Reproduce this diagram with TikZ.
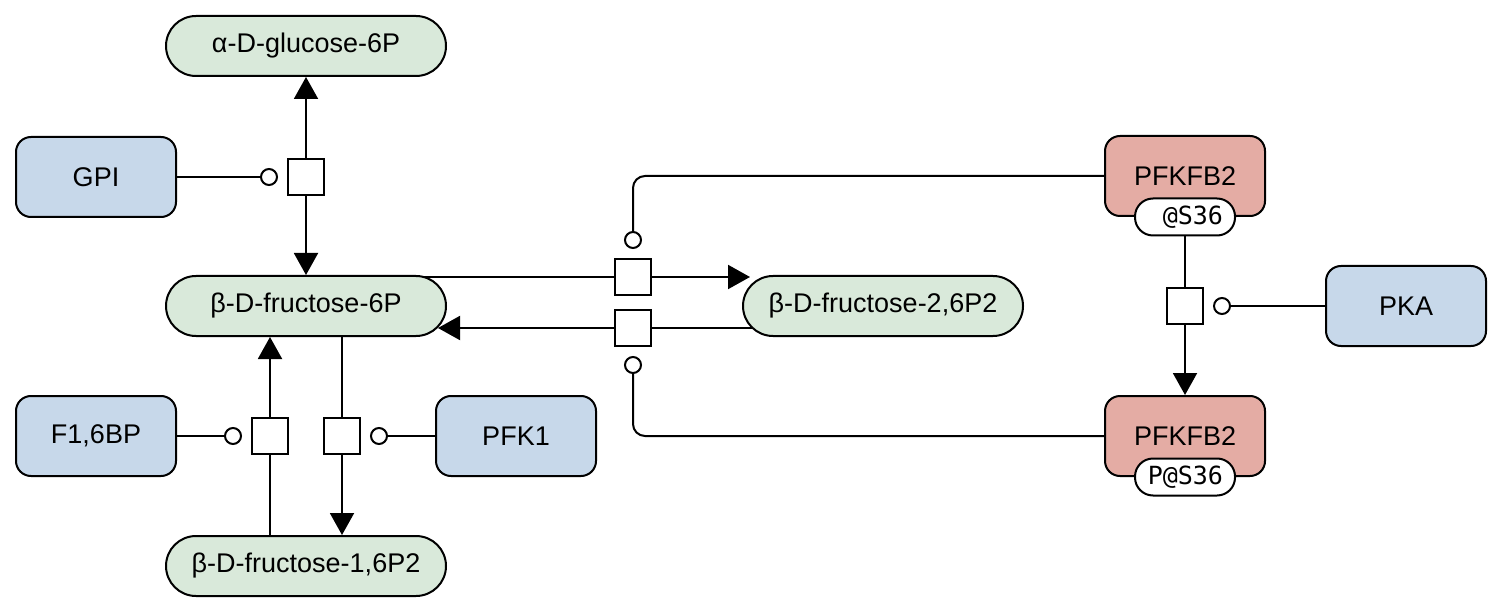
\documentclass[tikz,border=0pt]{standalone}
\usepackage{fontspec}
\setmainfont{Liberation Sans}
\newfontfamily\sitefont{DejaVu Sans Mono}
\usepackage{tikz}
\usetikzlibrary{calc,arrows.meta,backgrounds}
\definecolor{metagreen}{RGB}{217,233,218}
\definecolor{enzblue}{RGB}{199,216,234}
\definecolor{enzred}{RGB}{228,172,164}
\tikzset{
    metabolite/.style={draw=black,line width=1pt,fill=metagreen,rounded corners=15pt,minimum width=140pt,minimum height=30pt,inner sep=0pt},
    enzyme/.style={draw=black,line width=1pt,fill=enzblue,rounded corners=7.5pt,minimum width=80pt,minimum height=40pt,inner sep=0pt},
    kinase/.style={enzyme,fill=enzred},
    site/.style={draw=black,line width=1pt,fill=white,rounded corners=9pt,minimum width=50pt,minimum height=18.5pt,inner sep=0pt,text width=38pt,align=right,font=\sitefont\fontsize{12.5}{14}\selectfont},
    process/.style={draw=black,line width=1pt,fill=white,minimum size=18pt,inner sep=0pt},
    link/.style={black,line width=1pt},
    conversion/.style={link,-{Triangle[length=11pt,width=12pt]}},
    modulation/.style={link,-{Circle[open,length=9pt,width=9pt]},shorten >=4.5pt}
}
\begin{document}
\begin{tikzpicture}[x=0.5pt,y=-0.5pt,font=\fontsize{13.5}{16}\selectfont]
\useasboundingbox (0,0) rectangle (1502,614);
\node[metabolite] (glc6p) at (306,46) {α-D-glucose-6P};
\node[enzyme] (gpi) at (96,177) {GPI};
\node[process] (p1) at (306,177) {};
\node[metabolite] (fru6p) at (306,306) {β-D-fructose-6P};
\node[metabolite] (fru16p) at (306,566) {β-D-fructose-1,6P2};
\node[enzyme] (f16bp) at (96,436) {F1,6BP};
\node[process] (p3) at (270,436) {};
\node[process] (p2) at (342,436) {};
\node[enzyme] (pfk1) at (516,436) {PFK1};
\node[process] (p4) at (633,277) {};
\node[process] (p5) at (633,328) {};
\node[metabolite] (fru26p) at (883,306) {β-D-fructose-2,6P2};
\node[kinase] (pfk2a) at (1185,176) {PFKFB2};
\node[site] (s36a) at (pfk2a.south) {@S36};
\node[process] (p6) at (1185,306) {};
\node[enzyme] (pka) at (1406,306) {PKA};
\node[kinase] (pfk2b) at (1185,436) {PFKFB2};
\node[site] (s36b) at (pfk2b.south) {P@S36};
\begin{scope}[on background layer]
\draw[conversion] (p1) -- (glc6p);
\draw[conversion] (p1) -- (fru6p);
\draw[modulation] (gpi) -- (p1);
\draw[link] (fru6p.center |- p4) -- (p4);
\draw[conversion] (p4) -- ($(p4 -| fru26p.west)+(4pt,0)$);
\draw[link] (fru26p.center |- p5) -- (p5);
\draw[conversion] (p5) -- ($(p5 -| fru6p.east)+(-4.5pt,0)$);
\draw[modulation,rounded corners=6pt] (pfk2a) -| (p4);
\draw[modulation,rounded corners=6pt] (pfk2b) -| (p5);
\draw[link] (pfk2a) -- (p6);
\draw[conversion] (p6) -- (pfk2b);
\draw[modulation] (pka) -- (p6);
\draw[conversion] (p3) -- (p3 |- fru6p.south);
\draw[link] (p3 |- fru16p.north) -- (p3);
\draw[link] (p2 |- fru6p.south) -- (p2);
\draw[conversion] (p2) -- (p2 |- fru16p.north);
\draw[modulation] (f16bp) -- (p3);
\draw[modulation] (pfk1) -- (p2);
\end{scope}
\end{tikzpicture}
\end{document}
